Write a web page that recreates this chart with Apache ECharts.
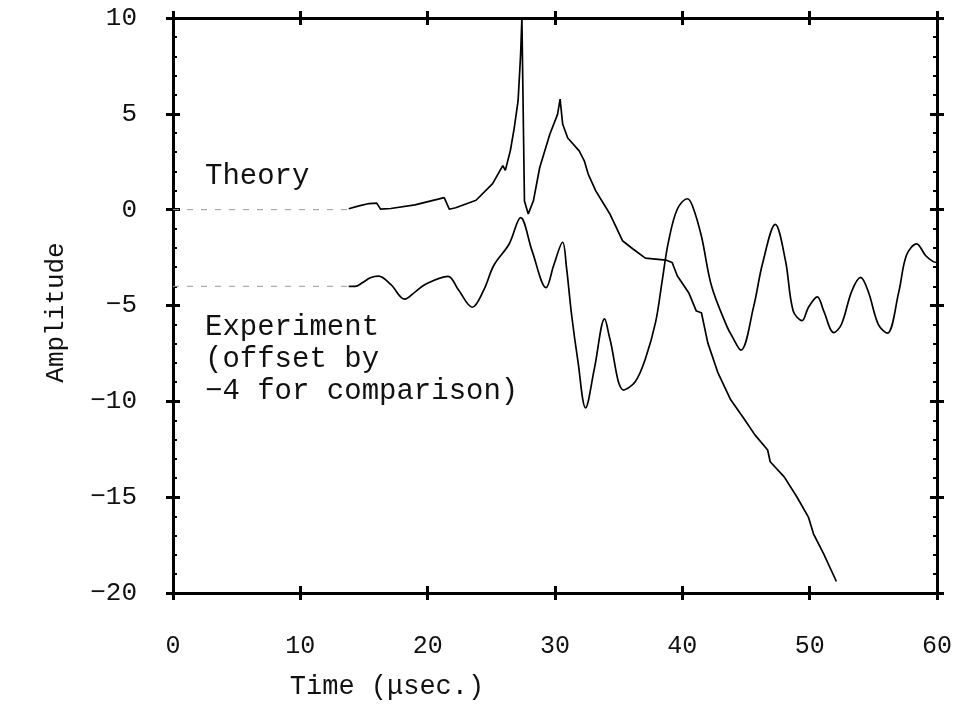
<!DOCTYPE html>
<html>
<head>
<meta charset="utf-8">
<script src="https://cdn.jsdelivr.net/npm/echarts@6/dist/echarts.min.js"></script>
<style>
html,body{margin:0;padding:0;background:#fff;}
#chart{width:963px;height:706px;}
</style>
</head>
<body>
<div id="chart"></div>
<script>
// ---- data ----
const xTickLabels = [0, 10, 20, 30, 40, 50, 60];
const yTickLabels = [-20, -15, -10, -5, 0, 5, 10];

const theoryTime = [13.8, 14.6, 15.4, 16.0, 16.3, 17.1, 19.0, 21.3, 21.7, 22.2, 23.8, 25.1, 25.9, 26.1, 26.5, 26.8, 27.1, 27.3, 27.4, 27.6, 27.9, 28.3, 28.8, 29.6, 30.2, 30.4, 30.6, 31.0, 31.9, 32.3, 32.6, 33.2, 34.3, 35.3, 36.1, 37.1, 38.7, 39.2, 39.6, 40.5, 41.1, 41.5, 42.0, 42.8, 43.8, 44.9, 45.7, 46.7, 46.9, 48.0, 49.0, 49.9, 50.3, 51.1, 52.1];
const theoryAmp  = [0.05, 0.2, 0.32, 0.34, 0.03, 0.06, 0.25, 0.63, 0.02, 0.1, 0.49, 1.36, 2.3, 2.05, 3.1, 4.27, 5.67, 8.1, 10.0, 0.45, -0.22, 0.45, 2.2, 3.95, 4.97, 5.77, 4.47, 3.74, 3.07, 2.55, 1.87, 0.98, -0.21, -1.62, -2.04, -2.53, -2.63, -2.76, -3.45, -4.33, -5.29, -5.38, -6.95, -8.52, -9.92, -10.96, -11.75, -12.54, -13.15, -13.94, -14.99, -16.04, -16.91, -17.96, -19.4];

const expTime = [13.8, 14.3, 14.9, 15.5, 16.15, 17.1, 18.2, 19.0, 19.8, 21.6, 22.4, 23.5, 24.4, 25.2, 26.4, 27.3, 28.2, 29.3, 29.9, 30.6, 30.9, 31.3, 31.8, 32.4, 33.1, 33.9, 34.3, 35.4, 36.3, 37.1, 37.9, 38.4, 38.9, 39.6, 40.4, 40.8, 41.5, 42.3, 43.5, 43.9, 44.6, 45.6, 46.3, 47.3, 48.1, 48.7, 49.4, 49.9, 50.6, 51.1, 51.9, 52.5, 53.3, 54.0, 54.6, 55.4, 56.1, 57.0, 57.6, 58.4, 59.1, 59.7, 60.0];
const expAmp  = [-4.0, -4.0, -3.8, -3.55, -3.47, -3.9, -4.67, -4.3, -3.9, -3.48, -4.17, -5.09, -4.2, -2.9, -1.79, -0.41, -2.15, -4.07, -2.9, -1.7, -3.0, -5.47, -7.9, -10.34, -8.27, -5.7, -6.71, -9.41, -8.98, -7.78, -5.87, -3.79, -1.71, 0.02, 0.57, 0.19, -1.39, -4.0, -6.09, -6.6, -7.33, -5.06, -2.81, -0.77, -2.66, -5.27, -5.79, -5.1, -4.55, -5.28, -6.41, -5.98, -4.26, -3.53, -4.27, -6.0, -6.44, -4.29, -2.38, -1.78, -2.39, -2.71, -2.75];

// faint lead-in baselines before the signals start
const leadTime = [0, 13.8];
const theoryLead = [0, 0];
const expLead = [-4, -4];

const FONT = '"Liberation Mono", "DejaVu Sans Mono", monospace';
const zip = (a, b) => a.map((v, i) => [v, b[i]]);
const minus = v => String(v).replace('-', '\u2212');

const chart = echarts.init(document.getElementById('chart'), null, {renderer: 'canvas'});

function xAx(pos, inside, main) {
  return {
    type: 'value', position: pos, min: 0, max: 60, interval: 10,
    axisLine: {show: true, onZero: false, lineStyle: {color: '#000', width: 3}},
    axisTick: {show: true, inside: inside, length: 7, lineStyle: {color: '#000', width: 3}},
    axisLabel: main ? {show: true, margin: 41, fontFamily: FONT, fontSize: 25, color: '#111'} : {show: false},
    splitLine: {show: false},
    name: main ? 'Time (\u03bcsec.)' : '',
    nameLocation: 'middle', nameGap: 80,
    nameTextStyle: {fontFamily: FONT, fontSize: 27, color: '#111', padding: [0, 336, 0, 0]}
  };
}
function yAx(pos, inside, main) {
  return {
    type: 'value', position: pos, min: -20, max: 10, interval: 5,
    axisLine: {show: true, onZero: false, lineStyle: {color: '#000', width: 3}},
    axisTick: {show: true, inside: inside, length: 7, lineStyle: {color: '#000', width: 3}},
    minorTick: {show: inside, splitNumber: 5, length: 4, lineStyle: {color: '#000', width: 2}},
    axisLabel: main ? {show: true, margin: 36, fontFamily: FONT, fontSize: 26, color: '#111', formatter: minus} : {show: false},
    splitLine: {show: false},
    name: main ? 'Amplitude' : '',
    nameLocation: 'middle', nameGap: 104, nameRotate: 90,
    nameTextStyle: {fontFamily: FONT, fontSize: 26, color: '#111', padding: [0, 14, 0, 0]}
  };
}

const lineSeries = (name, t, v, smooth) => ({
  name: name, type: 'line', xAxisIndex: 0, yAxisIndex: 0,
  data: zip(t, v), showSymbol: false, smooth: smooth,
  lineStyle: {color: '#000', width: 1.7}, z: 5
});
const leadSeries = (name, t, v) => ({
  name: name, type: 'line', xAxisIndex: 0, yAxisIndex: 0,
  data: zip(t, v), showSymbol: false,
  lineStyle: {color: '#9a9a9a', width: 1, type: [6, 8]}, z: 4
});

chart.setOption({
  animation: false,
  backgroundColor: '#fff',
  grid: {left: 173, right: 26, top: 18, bottom: 113, containLabel: false},
  xAxis: [xAx('bottom', true, true), xAx('bottom', false, false), xAx('top', true, false), xAx('top', false, false)],
  yAxis: [yAx('left', true, true), yAx('left', false, false), yAx('right', true, false), yAx('right', false, false)],
  graphic: [
    {type: 'text', left: 205, top: 162, style: {text: 'Theory', font: '29px ' + FONT, fill: '#111'}},
    {type: 'text', left: 205, top: 311, style: {text: 'Experiment\n(offset by\n\u22124 for comparison)', font: '29px ' + FONT, fill: '#111', lineHeight: 32}}
  ],
  series: [
    leadSeries('Theory lead', leadTime, theoryLead),
    leadSeries('Experiment lead', leadTime, expLead),
    lineSeries('Theory', theoryTime, theoryAmp, false),
    lineSeries('Experiment', expTime, expAmp, 0.35)
  ]
});
</script>
</body>
</html>
